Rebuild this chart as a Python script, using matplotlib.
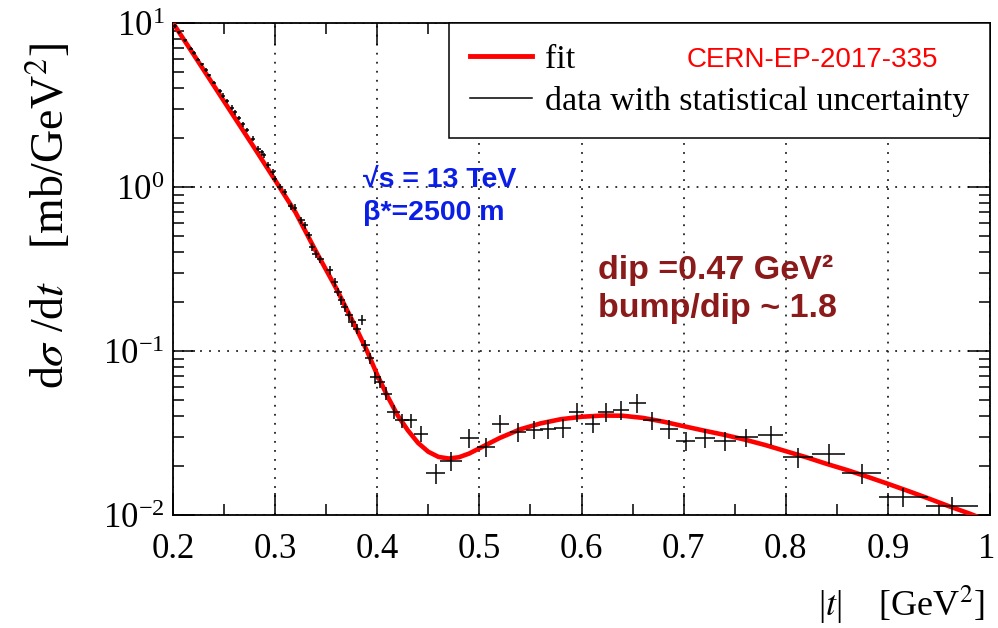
import matplotlib
matplotlib.use('Agg')
import matplotlib.pyplot as plt
import matplotlib.transforms as mtransforms
from matplotlib.lines import Line2D
from matplotlib.ticker import FixedLocator, FixedFormatter, LogLocator, NullFormatter, MultipleLocator, LogFormatterMathtext

plt.rcParams['font.family'] = ['Liberation Serif', 'DejaVu Serif']
plt.rcParams['mathtext.fontset'] = 'stix'

# ---- data (|t| in GeV^2, dsigma/dt in mb/GeV^2) ----
t_data = [0.2020, 0.2062, 0.2117, 0.2173, 0.2205, 0.2247, 0.2281, 0.2320, 0.2355, 0.2404,
          0.2459, 0.2492, 0.2531, 0.2574, 0.2606, 0.2645, 0.2687, 0.2726, 0.2779, 0.2834,
          0.2867, 0.2890, 0.2932, 0.2975, 0.2997, 0.3046, 0.3095, 0.3151, 0.3193, 0.3258,
          0.3290, 0.3329, 0.3362, 0.3398, 0.3444, 0.3535, 0.3584, 0.3616, 0.3649, 0.3681,
          0.3725, 0.3750, 0.3805, 0.3850, 0.3884, 0.3926, 0.3975, 0.4030, 0.4089, 0.4160,
          0.4241, 0.4327, 0.4431, 0.4571, 0.4724, 0.4903, 0.5067, 0.5206, 0.5375, 0.5539,
          0.5669, 0.5815, 0.5952, 0.6108, 0.6239, 0.6386, 0.6548, 0.6689, 0.6858, 0.7021,
          0.7210, 0.7406, 0.7615, 0.7853, 0.8118, 0.8419, 0.8745, 0.9149, 0.9628]
y_data = [9.59, 8.78, 7.83, 6.98, 6.54, 5.98, 5.59, 5.16, 4.79, 4.33,
          3.87, 3.61, 3.33, 3.05, 2.85, 2.63, 2.41, 2.23, 1.97, 1.71,
          1.63, 1.56, 1.36, 1.23, 1.125, 1.00, 0.932, 0.763, 0.749, 0.627,
          0.584, 0.508, 0.431, 0.393, 0.362, 0.310, 0.263, 0.229, 0.204, 0.185,
          0.165, 0.150, 0.137, 0.154, 0.1083, 0.0902, 0.0691, 0.0647, 0.0550, 0.0425,
          0.0378, 0.0378, 0.0313, 0.0180, 0.0213, 0.0296, 0.0261, 0.0361, 0.0321, 0.0332,
          0.0336, 0.0341, 0.0425, 0.0361, 0.0425, 0.0439, 0.0482, 0.0378, 0.0336, 0.0283,
          0.0296, 0.0284, 0.0297, 0.0307, 0.0225, 0.0237, 0.0180, 0.0129, 0.0113]
t_halfwidth = [0.002, 0.002, 0.002, 0.002, 0.002, 0.002, 0.002, 0.002, 0.002, 0.002,
               0.002, 0.002, 0.002, 0.002, 0.002, 0.002, 0.002, 0.002, 0.002, 0.0025,
               0.0025, 0.0025, 0.0025, 0.0025, 0.0025, 0.0025, 0.0025, 0.0025, 0.0025, 0.003,
               0.003, 0.003, 0.0033, 0.0033, 0.0033, 0.0035, 0.0035, 0.0035, 0.0035, 0.0035,
               0.004, 0.004, 0.004, 0.004, 0.0045, 0.0045, 0.005, 0.005, 0.0055, 0.006,
               0.0065, 0.0065, 0.007, 0.009, 0.0105, 0.0095, 0.009, 0.0085, 0.008, 0.008,
               0.008, 0.008, 0.0077, 0.0077, 0.008, 0.008, 0.008, 0.0085, 0.009, 0.0095,
               0.010, 0.011, 0.011, 0.012, 0.0145, 0.016, 0.019, 0.024, 0.025]
y_relerr = [0.025, 0.025, 0.025, 0.025, 0.025, 0.025, 0.025, 0.025, 0.025, 0.025,
            0.03, 0.03, 0.03, 0.03, 0.03, 0.03, 0.03, 0.03, 0.035, 0.035,
            0.035, 0.035, 0.04, 0.04, 0.04, 0.04, 0.045, 0.045, 0.045, 0.05,
            0.05, 0.05, 0.055, 0.055, 0.055, 0.06, 0.06, 0.06, 0.06, 0.065,
            0.07, 0.07, 0.07, 0.07, 0.075, 0.08, 0.085, 0.085, 0.09, 0.095,
            0.10, 0.10, 0.11, 0.14, 0.13, 0.13, 0.13, 0.13, 0.13, 0.13,
            0.13, 0.13, 0.13, 0.13, 0.13, 0.13, 0.13, 0.13, 0.13, 0.13,
            0.13, 0.13, 0.13, 0.13, 0.14, 0.14, 0.14, 0.13, 0.14]

t_fit = [0.20, 0.22, 0.24, 0.26, 0.28, 0.30, 0.32, 0.34, 0.36, 0.37,
         0.38, 0.39, 0.40, 0.41, 0.42, 0.43, 0.44, 0.45, 0.46, 0.47,
         0.48, 0.49, 0.50, 0.52, 0.54, 0.56, 0.58, 0.60, 0.62, 0.64,
         0.66, 0.68, 0.70, 0.72, 0.74, 0.76, 0.78, 0.80, 0.82, 0.84,
         0.86, 0.88, 0.90, 0.92, 0.94, 0.96, 0.98, 1.00]
y_fit = [10.0, 6.45, 4.15, 2.67, 1.72, 1.10, 0.70, 0.405, 0.240, 0.180,
         0.135, 0.100, 0.0715, 0.0530, 0.0405, 0.0328, 0.0275, 0.0243, 0.0226, 0.0221,
         0.0225, 0.0237, 0.0255, 0.0295, 0.0333, 0.0362, 0.0384, 0.0397, 0.0404, 0.0403,
         0.0391, 0.0371, 0.0348, 0.0327, 0.0308, 0.0288, 0.0267, 0.0245, 0.0225, 0.0205,
         0.0188, 0.0171, 0.0155, 0.0140, 0.0126, 0.0113, 0.0102, 0.0091]

x_ticks = [0.2, 0.3, 0.4, 0.5, 0.6, 0.7, 0.8, 0.9, 1.0]
x_ticklabels = ['0.2', '0.3', '0.4', '0.5', '0.6', '0.7', '0.8', '0.9', '1']

W, H = 998, 628
fig = plt.figure(figsize=(W / 100, H / 100), dpi=100)
ax = fig.add_axes([173 / W, 1 - 515 / H, (990 - 173) / W, (515 - 23) / H])

ax.plot(t_fit, y_fit, color='#ff0000', lw=3.3, zorder=3, solid_joinstyle='round')
yerr = [y * r for y, r in zip(y_data, y_relerr)]
ax.errorbar(t_data, y_data, xerr=t_halfwidth, yerr=yerr, fmt='none',
            ecolor='black', elinewidth=1.1, capsize=0, zorder=4)

ax.set_yscale('log')
ax.set_xlim(0.2, 1.0)
ax.set_ylim(0.01, 10)

ax.xaxis.set_major_locator(FixedLocator(x_ticks))
ax.xaxis.set_major_formatter(FixedFormatter(x_ticklabels))
ax.xaxis.set_minor_locator(MultipleLocator(0.05))
ax.yaxis.set_major_locator(LogLocator(base=10))
ax.yaxis.set_major_formatter(LogFormatterMathtext())
ax.yaxis.set_minor_locator(LogLocator(base=10, subs=range(2, 10)))
ax.yaxis.set_minor_formatter(NullFormatter())

ax.tick_params(which='both', direction='in', top=True, right=True, width=1.1, color='black')
ax.tick_params(which='major', length=16, labelsize=25)
ax.tick_params(which='minor', length=8)
ax.tick_params(axis='x', which='major', pad=13)
ax.tick_params(axis='y', which='major', pad=6)
for s in ax.spines.values():
    s.set_linewidth(1.3)

ax.grid(True, which='major', linestyle=(0, (1, 4)), color='#222222', lw=1.3)

handles = [Line2D([], [], color='#ff0000', lw=3.5),
           Line2D([], [], color='black', lw=1.1)]
leg = ax.legend(handles, ['fit', 'data with statistical uncertainty'],
                loc='upper right', bbox_to_anchor=(1, 1), borderaxespad=0,
                prop={'family': 'Liberation Serif', 'size': 24.5},
                frameon=True, fancybox=False, framealpha=1, edgecolor='black',
                handlelength=1.8, handletextpad=0.38, labelspacing=0.32, borderpad=0.62)
leg.get_frame().set_linewidth(1.1)
leg.set_zorder(10)

# nudge the last x tick label ("1") slightly left so it stays inside the canvas
fig.canvas.draw()
lbls = ax.get_xticklabels()
lbls[-1].set_transform(lbls[-1].get_transform() +
                       mtransforms.ScaledTranslation(-3 / 100, 0, fig.dpi_scale_trans))

# annotations
fig.text(687 / W, 1 - 60 / H, 'CERN-EP-2017-335', color='#ff0000',
         family='Liberation Sans', fontsize=20, va='center', ha='left')
fig.text(363 / W, 1 - 180 / H, '\u221as = 13 TeV', color='#0a1ee6',
         family=['Liberation Sans', 'DejaVu Sans'], fontweight='bold', fontsize=20.5,
         va='center', ha='left')
fig.text(363 / W, 1 - 213 / H, '\u03b2*=2500 m', color='#0a1ee6',
         family=['Liberation Sans', 'DejaVu Sans'], fontweight='bold', fontsize=20.5,
         va='center', ha='left')
fig.text(598 / W, 1 - 270 / H, 'dip =0.47 GeV\u00b2', color='#8b1a1a',
         family=['Liberation Sans', 'DejaVu Sans'], fontweight='bold', fontsize=24.5,
         va='center', ha='left')
fig.text(598 / W, 1 - 308 / H, 'bump/dip ~ 1.8', color='#8b1a1a',
         family=['Liberation Sans', 'DejaVu Sans'], fontweight='bold', fontsize=24.5,
         va='center', ha='left')

# axis labels
fig.text(50 / W, 1 - 216 / H, r'd$\sigma$ /d$t$   [mb/GeV$^2$]', rotation=90,
         fontsize=33, va='center', ha='center')
fig.text(985 / W, 1 - 605 / H, r'|$t$|    [GeV$^2$]', fontsize=26,
         va='center', ha='right')

fig.savefig('out.png', dpi=100)
